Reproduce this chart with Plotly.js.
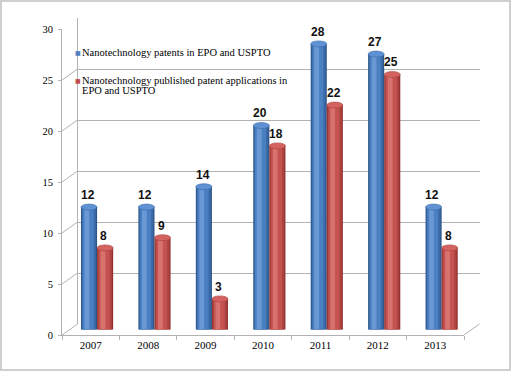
<!DOCTYPE html>
<html>
<head>
<meta charset="utf-8">
<script src="https://cdn.plot.ly/plotly-3.0.1.min.js"></script>
<style>
  html, body { margin:0; padding:0; background:#fff; }
  #wrap { position:relative; width:511px; height:371px; }
  #chart { position:absolute; left:0; top:0; width:511px; height:371px; }
  #frame { position:absolute; left:0; top:0; width:511px; height:371px; box-sizing:border-box;
           border:2px solid #cfcfcf; pointer-events:none; }
</style>
</head>
<body>
<div id="wrap"><div id="chart"></div><div id="frame"></div></div>
<script>
// ---- data ----
const years = ["2007", "2008", "2009", "2010", "2011", "2012", "2013"];
const patents = [12, 12, 14, 20, 28, 27, 12];
const applications = [8, 9, 3, 18, 22, 25, 8];
const seriesNames = ["Nanotechnology patents in EPO and USPTO",
                     "Nanotechnology published patent applications in", "EPO and USPTO"];
const yTicks = [0, 5, 10, 15, 20, 25, 30];

// ---- geometry helpers (pixel -> paper) ----
const W = 511, H = 371;
const px = x => x / W;
const py = y => 1 - y / H;

const front = {x0: 62, x1: 464, yb: 335, yt: 29};
const mid   = {x0: 69.5, x1: 471.5, yb: 329.5, yt: 23.5};
const back  = {x0: 77.5, x1: 479.5, yb: 324, yt: 18};
const dX = back.x0 - front.x0, dY = front.yb - back.yb;

const gray = '#b2b2b2';
const serif = 'Liberation Serif, Times New Roman, serif';

const styles = [
  {off: -0.30, w: 0.28, layers: ['#2b5487', '#3a69a6', '#4a7fc1', '#6a98d5'], cap: '#5f92d4', capLine: '#3a69a6'},
  {off: -0.02, w: 0.28, layers: ['#8f302e', '#ad4340', '#c4524f', '#d7726f'], cap: '#d4625f', capLine: '#a8413e'}
];
const layerGeom = [[0, 1], [0.05, 0.88], [0.11, 0.68], [0.22, 0.3]];
const values = [patents, applications];

const traces = [];
values.forEach((vals, s) => {
  const st = styles[s];
  layerGeom.forEach((g, k) => {
    traces.push({
      type: 'bar', x: years, y: vals, xaxis: 'x2', yaxis: 'y2',
      offset: st.off + st.w * g[0], width: st.w * g[1],
      marker: {color: st.layers[k], line: {width: 0}},
      showlegend: false, hoverinfo: 'skip'
    });
  });
});

const shapes = [];
const annotations = [];
// caps + labels
values.forEach((vals, s) => {
  const st = styles[s];
  vals.forEach((v, i) => {
    shapes.push({type: 'circle', xref: 'x2', yref: 'y2', ysizemode: 'pixel', yanchor: v,
      x0: i + st.off, x1: i + st.off + st.w, y0: -3, y1: 3,
      fillcolor: st.cap, line: {color: st.capLine, width: 0.6}, layer: 'above'});
    shapes.push({type: 'circle', xref: 'x2', yref: 'y2', ysizemode: 'pixel', yanchor: 0,
      x0: i + st.off, x1: i + st.off + st.w, y0: -3, y1: 3,
      fillcolor: st.layers[1], line: {width: 0}, layer: 'below'});
    annotations.push({xref: 'x2', yref: 'y2', x: i + st.off + st.w / 2 - 0.02, y: v,
      text: String(v), showarrow: false, xanchor: 'center', yanchor: 'bottom', yshift: 3,
      font: {family: 'Liberation Sans, Arial, sans-serif', size: 12, color: '#111', weight: 'bold'}});
  });
});
// diagonal connectors from front y ticks to back wall
yTicks.forEach(v => {
  shapes.push({type: 'line', xref: 'paper', xsizemode: 'pixel', xanchor: px(front.x0),
    x0: 0, x1: dX, yref: 'y3', ysizemode: 'pixel', yanchor: v, y0: 0, y1: dY,
    line: {color: gray, width: 1}});
});
// right floor edge
shapes.push({type: 'line', xref: 'paper', xsizemode: 'pixel', xanchor: px(front.x1),
  x0: 0, x1: dX, yref: 'y3', ysizemode: 'pixel', yanchor: 0, y0: 0, y1: dY,
  line: {color: gray, width: 1}});

// legend as annotations
const legFont = {family: serif, size: 10.5, color: '#000'};
const legendRows = [
  {y: 52, sq: '#4f81bd', text: seriesNames[0]},
  {y: 80, sq: '#c0504d', text: seriesNames[1]},
  {y: 91, sq: null, text: seriesNames[2]}
];
legendRows.forEach(r => {
  if (r.sq) {
    annotations.push({xref: 'paper', yref: 'paper', x: px(82), y: py(r.y), xanchor: 'right', yanchor: 'middle',
      text: '■', showarrow: false, borderpad: 0,
      font: {family: 'DejaVu Sans', size: 6, color: r.sq}});
  }
  annotations.push({xref: 'paper', yref: 'paper', x: px(80), y: py(r.y), xanchor: 'left', yanchor: 'middle',
    text: r.text, showarrow: false, font: legFont});
});

const layout = {
  width: W, height: H,
  margin: {l: 0, r: 0, t: 0, b: 0},
  paper_bgcolor: 'rgba(0,0,0,0)', plot_bgcolor: 'rgba(0,0,0,0)',
  barmode: 'overlay',
  showlegend: false,
  xaxis: {domain: [px(back.x0), px(back.x1)], range: [-0.5, 6.5], type: 'category',
    categoryarray: years, showgrid: false, zeroline: false, showticklabels: false, showline: false,
    anchor: 'y', fixedrange: true},
  yaxis: {domain: [py(back.yb), py(back.yt)], range: [0, 30], tickvals: yTicks, showgrid: true,
    gridcolor: gray, gridwidth: 1, zeroline: false, showticklabels: false, showline: true,
    linecolor: gray, anchor: 'x', fixedrange: true},
  xaxis2: {domain: [px(mid.x0), px(mid.x1)], range: [-0.5, 6.5], type: 'category',
    categoryarray: years, visible: false, anchor: 'y2', fixedrange: true},
  yaxis2: {domain: [py(mid.yb), py(mid.yt)], range: [0, 30], visible: false, anchor: 'x2', fixedrange: true},
  xaxis3: {domain: [px(front.x0), px(front.x1)], range: [-0.5, 6.5], type: 'category',
    categoryarray: years, tickvals: years, showgrid: false, zeroline: false, showline: true,
    linecolor: gray, linewidth: 1, ticks: 'outside', tickson: 'boundaries', ticklen: 4, tickcolor: gray,
    tickfont: {family: serif, size: 11, color: '#000'}, anchor: 'y3', fixedrange: true},
  yaxis3: {domain: [py(front.yb), py(front.yt)], range: [0, 30], tickvals: yTicks, ticktext: yTicks.map(String),
    showgrid: false, zeroline: false, showline: true, linecolor: gray, ticks: 'outside', ticklen: 3,
    tickcolor: gray, ticklabelstandoff: 3,
    tickfont: {family: serif, size: 10.5, color: '#000'}, anchor: 'x3', fixedrange: true},
  shapes: shapes,
  annotations: annotations
};

// hidden traces so the back and front subplots' axes are drawn
traces.push({type: 'scatter', x: [years[0]], y: [0], xaxis: 'x3', yaxis: 'y3', mode: 'markers',
  marker: {opacity: 0}, showlegend: false, hoverinfo: 'skip'});
traces.unshift({type: 'scatter', x: [years[0]], y: [0], xaxis: 'x', yaxis: 'y', mode: 'markers',
  marker: {opacity: 0}, showlegend: false, hoverinfo: 'skip'});

Plotly.newPlot('chart', traces, layout, {displayModeBar: false, staticPlot: true});
</script>
</body>
</html>
